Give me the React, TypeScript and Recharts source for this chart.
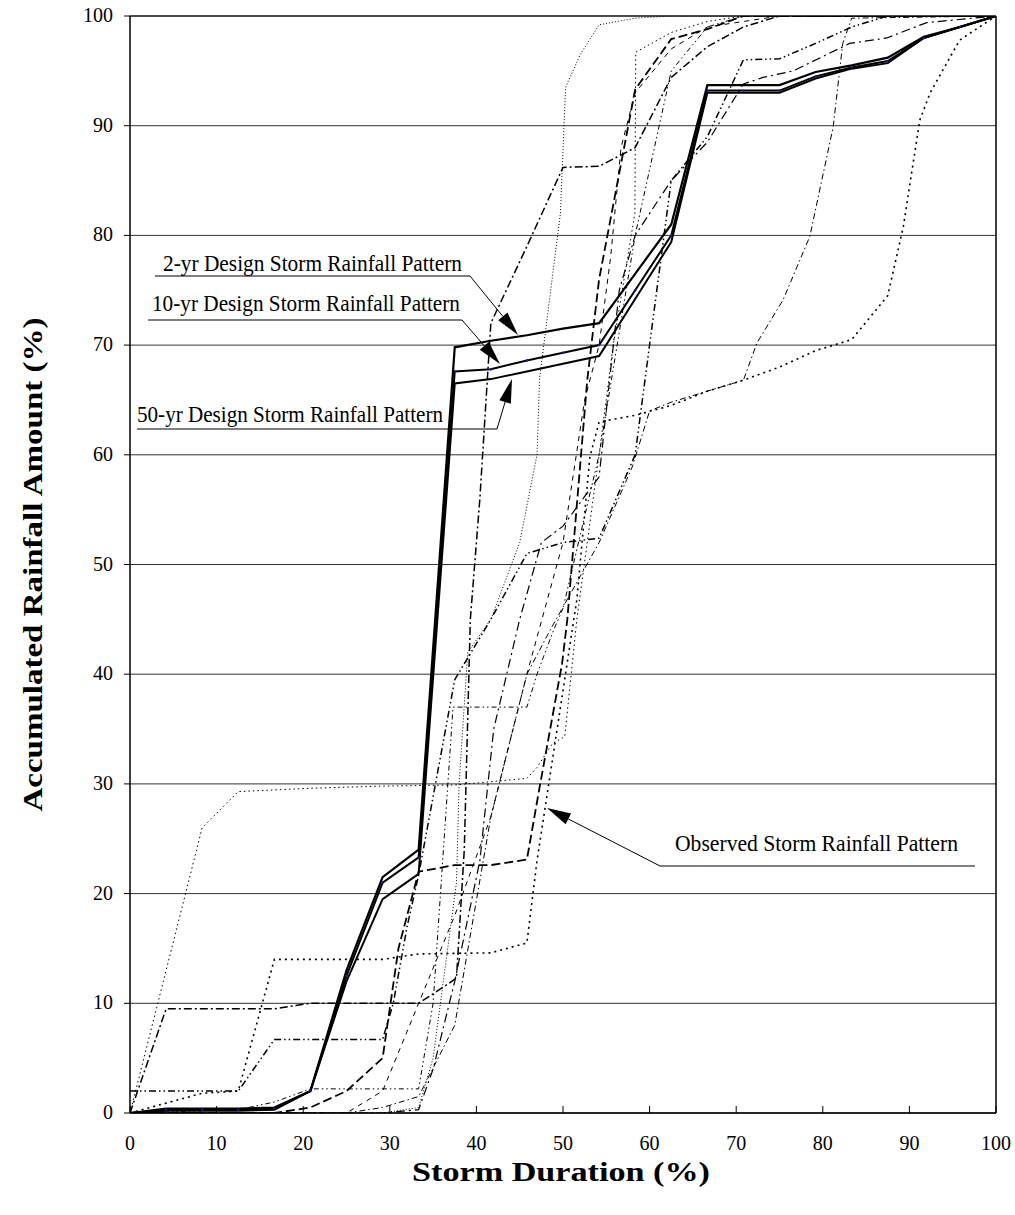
import React from 'react';
import { LineChart, Line, XAxis, YAxis, CartesianGrid, ReferenceLine } from 'recharts';

// ---------- data ----------
const designX = [0, 4.17, 8.33, 12.5, 16.67, 20.83, 25, 29.17, 33.33, 37.5, 41.67, 45.83, 50, 54.17, 58.33, 62.5, 66.67, 70.83, 75, 79.17, 83.33, 87.5, 91.67, 95.83, 100];
const design2yr = [0, 0.4, 0.4, 0.4, 0.5, 2, 13, 21.5, 24, 69.8, 70.4, 70.9, 71.5, 72, 76.5, 81, 93.7, 93.7, 93.7, 94.9, 95.5, 96.2, 98.1, 99, 100];
const design10yr = [0, 0.3, 0.3, 0.3, 0.4, 2, 12.5, 21, 23.3, 67.6, 67.8, 68.6, 69.3, 70, 75, 80, 93.2, 93.2, 93.2, 94.5, 95.3, 95.9, 98, 99, 100];
const design50yr = [0, 0.2, 0.2, 0.2, 0.3, 2, 12, 19.5, 21.8, 66.5, 66.9, 67.6, 68.3, 69, 74.2, 79.4, 93, 93, 93, 94.3, 95.2, 95.7, 98, 99, 100];

const observed1: number[][] = [[0, 0], [4.17, 13], [8.33, 26], [12.5, 29.3], [20.83, 29.6], [29.17, 29.8], [37.5, 29.9], [41.67, 30.2], [45.83, 30.5], [47, 31.5], [48.8, 33.7], [50.2, 34.3], [51.6, 45], [54.17, 60], [55.8, 70], [58.3, 82], [58.4, 96.7], [62.5, 98.5], [66.67, 99.5], [70.83, 100], [100, 100]];
const observed2: number[][] = [[0, 0], [4.17, 9.5], [16.67, 9.5], [20.83, 10], [33.33, 10], [36.6, 11.7], [37.7, 12.3], [38.6, 24], [39.3, 45], [40.4, 56], [41.67, 72], [45.83, 79], [50, 86.2], [54.17, 86.3], [58.33, 88], [62.5, 94.4], [66.67, 97.2], [70.83, 99], [75, 100], [100, 100]];
const observed3: number[][] = [[0, 2], [12.5, 2], [16.67, 6.7], [29.17, 6.7], [30.4, 10], [32, 17], [33.33, 21.7], [37.5, 39.5], [41.67, 45], [45.83, 51], [50, 52], [54.17, 52.4], [58.33, 60], [62.5, 85], [66.67, 89], [70.83, 96], [75, 96.1], [79.17, 97.5], [83.33, 99], [87.5, 100], [100, 100]];
const observed4: number[][] = [[0, 0], [4.17, 0.9], [8.33, 1.8], [12.5, 2], [16.67, 14], [29.17, 14], [33.33, 14.5], [41.67, 14.6], [45.83, 15.5], [47, 23], [48.3, 29.7], [51.6, 46.8], [53.1, 59.8], [54.17, 63], [58.33, 63.6], [62.5, 64.5], [66.67, 65.8], [70.83, 66.8], [75, 68], [79.17, 69.5], [83.33, 70.5], [87.5, 74.5], [89.3, 80.8], [91.2, 90.5], [92.4, 93], [95.8, 97.8], [100, 100]];
const observed5: number[][] = [[0, 0], [12.5, 0.3], [16.67, 1], [20.83, 2.2], [33.33, 2.2], [35, 10], [37.3, 37], [45.83, 37], [47, 40], [48.8, 43.8], [50, 46], [54.17, 60], [58.33, 80], [62.5, 95], [66.67, 99], [70.83, 100], [100, 100]];
const observed6: number[][] = [[0, 0], [16.67, 0], [20.83, 0.5], [25, 2], [29.17, 5], [31, 15], [33.33, 22], [37.5, 22.6], [41.67, 22.6], [45.83, 23.1], [47.3, 29.7], [49.9, 41], [50.5, 45], [52.8, 66.8], [54.17, 76], [58.33, 93.3], [62.5, 97.9], [66.67, 98.8], [70.83, 100], [100, 100]];
const observed7: number[][] = [[0, 0], [25, 0], [29.17, 0.5], [33.33, 1.5], [37.5, 8], [41.67, 27], [45.83, 40], [48.5, 44], [54.17, 52], [58, 58.9], [60, 64], [62.5, 64.8], [66.67, 65.8], [70.83, 66.8], [72.4, 70.2], [75.4, 74.1], [78.5, 79.9], [81.2, 89.9], [82.3, 97.5], [83.33, 99.8], [100, 100]];
const observed8: number[][] = [[0, 0], [29.17, 0], [33.33, 0.5], [35, 5], [37.7, 21], [38, 30], [39, 42], [41.67, 45], [45, 52], [47, 60], [47.3, 67], [49.7, 82], [50.3, 93.5], [52, 96.5], [54.17, 99.2], [58.33, 99.8], [62.5, 100], [100, 100]];
const observed9: number[][] = [[0, 0], [29.17, 0], [33.33, 0.3], [35, 4], [37.5, 12], [40.4, 23], [42, 35], [45, 45], [47.5, 52], [50, 53.5], [54.17, 58], [56.5, 75], [58.33, 80], [62.5, 85], [66.67, 88.5], [70.83, 93.8], [73.1, 94.4], [76.6, 95], [83.1, 97.5], [87.4, 98], [92, 99.4], [100, 100]];
const observed10: number[][] = [[0, 0], [25, 0], [29.17, 2], [33.33, 10], [37.5, 18], [41.67, 27], [45.83, 40], [50, 52], [52.5, 65], [54.17, 70], [55.5, 78], [56.7, 88], [58.33, 93], [62.5, 97], [66.67, 99], [75, 100], [100, 100]];

const xTicks = [0, 10, 20, 30, 40, 50, 60, 70, 80, 90, 100];
const yTicks = [0, 10, 20, 30, 40, 50, 60, 70, 80, 90, 100];

const xTitle = 'Storm Duration (%)';
const yTitle = 'Accumulated Rainfall Amount (%)';
const label2 = '2-yr Design Storm Rainfall Pattern';
const label10 = '10-yr Design Storm Rainfall Pattern';
const label50 = '50-yr Design Storm Rainfall Pattern';
const labelObs = 'Observed Storm Rainfall Pattern';

// ---------- helpers ----------
const toXY = (pairs: number[][]) => pairs.map(([x, y]) => ({ x, y }));
const design = (vals: number[]) => designX.map((x, i) => ({ x, y: vals[i] }));

const observedSeries = [
  { data: observed1, dash: '1.5 3', w: 1 },
  { data: observed2, dash: '8 3 2 3', w: 1.5 },
  { data: observed3, dash: '7 3 1.5 3 1.5 3', w: 1.5 },
  { data: observed4, dash: '2 4', w: 1.6 },
  { data: observed5, dash: '5 3 1.5 3 1.5 3', w: 1 },
  { data: observed6, dash: '9 4', w: 1.8 },
  { data: observed7, dash: '6 3 1.5 3', w: 1 },
  { data: observed8, dash: '1 2', w: 1 },
  { data: observed9, dash: '9 4 2 4', w: 1.2 },
  { data: observed10, dash: '5 5', w: 1 },
];

const FONT = "'Liberation Serif', 'Times New Roman', Times, serif";
const fontStyle = { fontFamily: FONT };
const W = 1015;
const H = 1215;
const PLOT_LEFT = 130;
const PLOT_RIGHT = 996;
const PLOT_TOP = 16;
const PLOT_BOTTOM = 1113;

const XTick = (props: any) => {
  const { x, payload } = props;
  return (
    <g>
      <line x1={x} x2={x} y1={PLOT_BOTTOM} y2={PLOT_BOTTOM - 7} stroke="#000" strokeWidth={1} />
      <text x={x} y={1150} textAnchor="middle" style={fontStyle} fontSize={20} fill="#000">
        {payload.value}
      </text>
    </g>
  );
};

const YTick = (props: any) => {
  const { y, payload } = props;
  return (
    <g>
      <line x1={PLOT_LEFT - 6} x2={PLOT_LEFT} y1={y} y2={y} stroke="#000" strokeWidth={1} />
      <text x={113} y={y + 6} textAnchor="end" style={fontStyle} fontSize={20} fill="#000">
        {payload.value}
      </text>
    </g>
  );
};

function Arrow({ from, to, len = 24, half = 6 }: { from: number[]; to: number[]; len?: number; half?: number }) {
  const dx = to[0] - from[0];
  const dy = to[1] - from[1];
  const d = Math.sqrt(dx * dx + dy * dy);
  const ux = dx / d;
  const uy = dy / d;
  const bx = to[0] - ux * len;
  const by = to[1] - uy * len;
  const p1 = [bx - uy * half, by + ux * half];
  const p2 = [bx + uy * half, by - ux * half];
  return (
    <g>
      <line x1={from[0]} y1={from[1]} x2={bx} y2={by} stroke="#000" strokeWidth={1} />
      <polygon points={`${to[0]},${to[1]} ${p1[0]},${p1[1]} ${p2[0]},${p2[1]}`} fill="#000" />
    </g>
  );
}

function Annotations() {
  return (
    <svg width={W} height={H} style={{ position: 'absolute', left: 0, top: 0, pointerEvents: 'none' }}>
      <text x={163} y={271} style={fontStyle} fontSize={24} textLength={299} lengthAdjust="spacingAndGlyphs">{label2}</text>
      <line x1={155} y1={276} x2={470} y2={276} stroke="#000" strokeWidth={1} />
      <Arrow from={[470, 276]} to={[518, 335]} />

      <text x={152} y={311} style={fontStyle} fontSize={24} textLength={308} lengthAdjust="spacingAndGlyphs">{label10}</text>
      <line x1={148} y1={320} x2={462} y2={320} stroke="#000" strokeWidth={1} />
      <Arrow from={[462, 320]} to={[500, 364]} />

      <text x={137} y={422} style={fontStyle} fontSize={24} textLength={306} lengthAdjust="spacingAndGlyphs">{label50}</text>
      <line x1={137} y1={429} x2={497} y2={429} stroke="#000" strokeWidth={1} />
      <Arrow from={[497, 429]} to={[512, 379]} />

      <text x={675} y={851} style={fontStyle} fontSize={24} textLength={283} lengthAdjust="spacingAndGlyphs">{labelObs}</text>
      <line x1={660} y1={866} x2={975} y2={866} stroke="#000" strokeWidth={1} />
      <Arrow from={[660, 866]} to={[547, 808]} />

      <text x={561} y={1181} textAnchor="middle" style={fontStyle} fontSize={28} fontWeight="bold" textLength={298} lengthAdjust="spacingAndGlyphs">{xTitle}</text>
      <text
        x={0}
        y={0}
        transform={`translate(42, ${(PLOT_TOP + PLOT_BOTTOM) / 2}) rotate(-90)`}
        textAnchor="middle"
        style={fontStyle}
        fontSize={28}
        fontWeight="bold"
        textLength={494}
        lengthAdjust="spacingAndGlyphs"
      >
        {yTitle}
      </text>
    </svg>
  );
}

export default function App() {
  return (
    <div style={{ position: 'absolute', left: 0, top: 0, width: W, height: H, background: '#fff' }}>
      <LineChart
        width={W}
        height={H}
        margin={{ top: PLOT_TOP, right: W - PLOT_RIGHT, left: 0, bottom: 0 }}
      >
        <CartesianGrid vertical={false} stroke="#333" strokeWidth={1} />
        <XAxis
          type="number"
          dataKey="x"
          domain={[0, 100]}
          ticks={xTicks}
          height={H - PLOT_BOTTOM}
          axisLine={{ stroke: '#000', strokeWidth: 1.5 }}
          tickLine={false}
          tick={<XTick />}
          interval={0}
          allowDataOverflow
        />
        <YAxis
          type="number"
          dataKey="y"
          domain={[0, 100]}
          ticks={yTicks}
          width={PLOT_LEFT}
          axisLine={{ stroke: '#000', strokeWidth: 1.5 }}
          tickLine={false}
          tick={<YTick />}
          interval={0}
          allowDataOverflow
        />
        <ReferenceLine x={100} stroke="#000" strokeWidth={1.5} />
        <ReferenceLine y={100} stroke="#000" strokeWidth={1.2} />
        {observedSeries.map((s, i) => (
          <Line
            key={`obs${i}`}
            data={toXY(s.data)}
            dataKey="y"
            type="linear"
            stroke="#000"
            strokeWidth={s.w}
            strokeDasharray={s.dash}
            dot={false}
            activeDot={false}
            isAnimationActive={false}
          />
        ))}
        <Line data={design(design50yr)} dataKey="y" type="linear" stroke="#000" strokeWidth={2} dot={false} activeDot={false} isAnimationActive={false} />
        <Line data={design(design10yr)} dataKey="y" type="linear" stroke="#000" strokeWidth={2} dot={{ r: 1.2, fill: '#1a1aa0', stroke: 'none' }} activeDot={false} isAnimationActive={false} />
        <Line data={design(design2yr)} dataKey="y" type="linear" stroke="#000" strokeWidth={2.2} dot={false} activeDot={false} isAnimationActive={false} />
      </LineChart>
      <Annotations />
    </div>
  );
}
